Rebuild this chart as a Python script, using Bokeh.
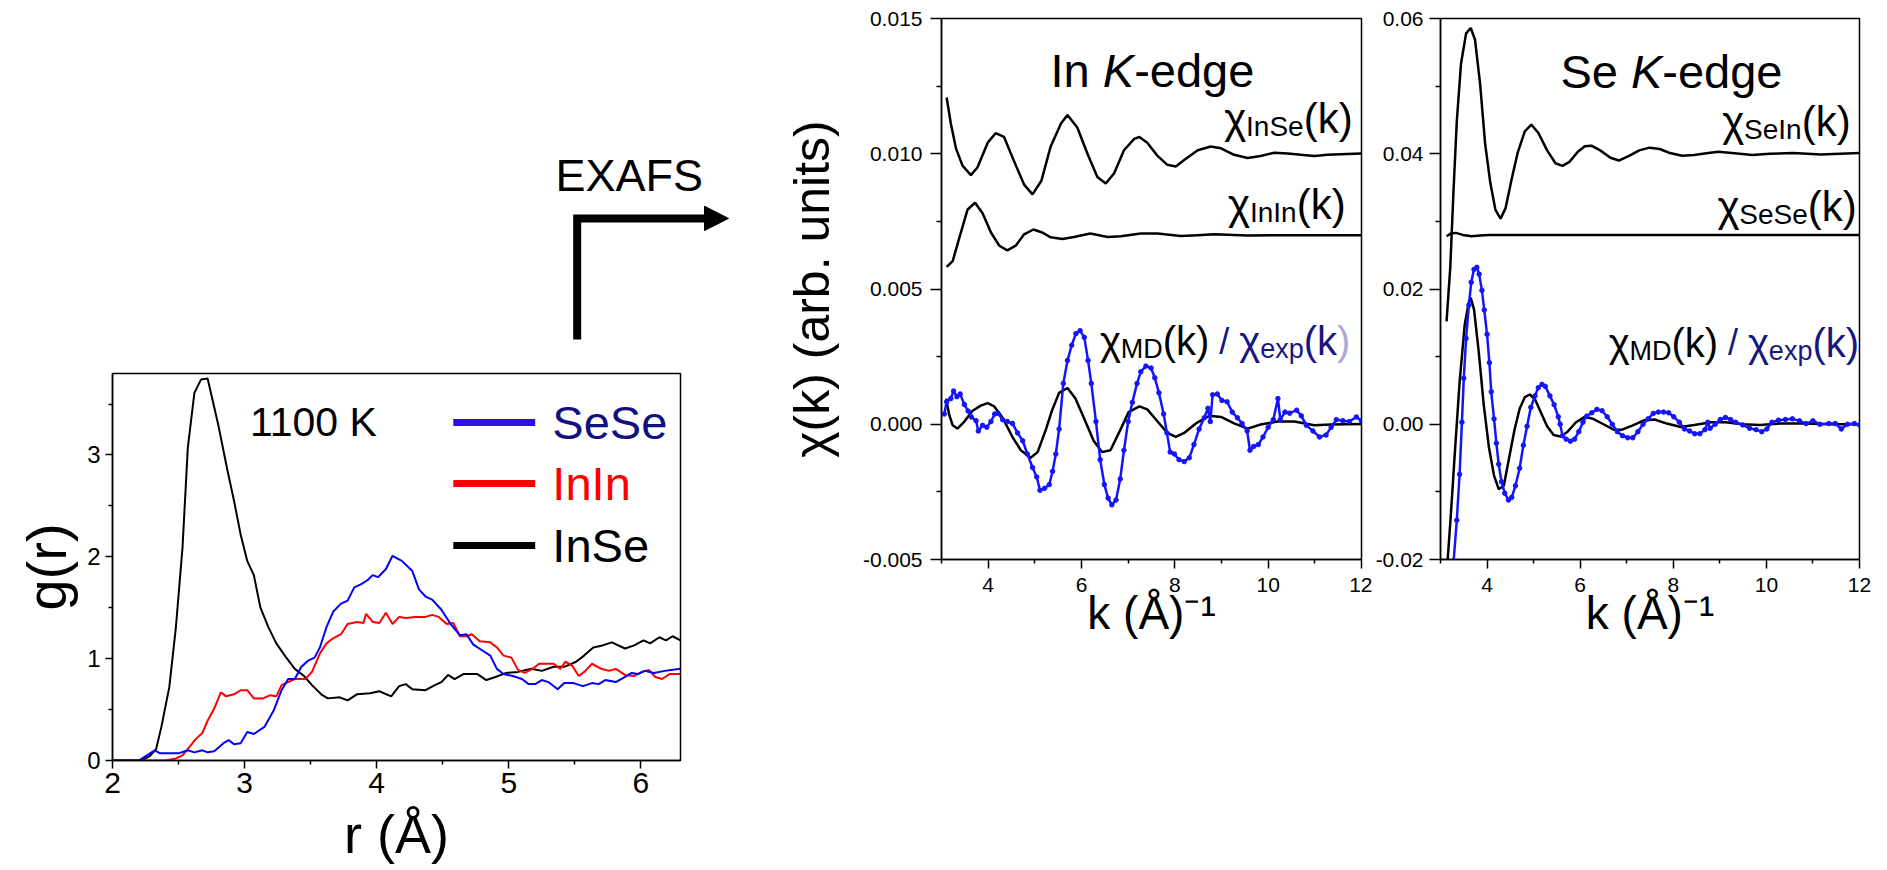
import numpy as np
from bokeh.plotting import figure
from bokeh.layouts import row, column
from bokeh.models import Range1d, FixedTicker, NumeralTickFormatter, Label
from bokeh.core.properties import value
from bokeh.embed import file_html
from bokeh.resources import INLINE

FONT = "Liberation Sans"
BLUE = "#1414ff"
NAVY = "#17177f"

# ---------------- g(r) data (1100 K) ----------------
r_inse = [2.0, 2.1, 2.2, 2.23, 2.28, 2.33, 2.37, 2.43, 2.48, 2.53, 2.57, 2.62, 2.67, 2.72, 2.80, 2.87, 2.92, 2.97, 3.02, 3.07,
          3.12, 3.18, 3.24, 3.31, 3.38, 3.45, 3.51, 3.58, 3.63, 3.72, 3.78, 3.85, 3.95, 4.02, 4.11, 4.17, 4.22, 4.27, 4.37, 4.44,
          4.49, 4.54, 4.59, 4.66, 4.76, 4.83, 4.90, 4.98, 5.07, 5.17, 5.25, 5.34, 5.42, 5.51, 5.57, 5.64, 5.71, 5.78, 5.88, 5.95,
          6.02, 6.07, 6.14, 6.19, 6.24, 6.30]
g_inse = [0, 0, 0, 0.01, 0.04, 0.11, 0.33, 0.72, 1.31, 2.09, 3.07, 3.61, 3.74, 3.75, 3.30, 2.85, 2.55, 2.22, 1.96, 1.82,
          1.50, 1.31, 1.15, 1.02, 0.90, 0.83, 0.74, 0.65, 0.61, 0.62, 0.59, 0.65, 0.66, 0.68, 0.63, 0.73, 0.75, 0.70, 0.69, 0.74,
          0.77, 0.84, 0.80, 0.85, 0.85, 0.79, 0.82, 0.86, 0.87, 0.90, 0.88, 0.92, 0.92, 0.97, 1.03, 1.11, 1.13, 1.16, 1.10, 1.13,
          1.18, 1.15, 1.21, 1.18, 1.22, 1.18]
r_sese = [2.0, 2.2, 2.26, 2.32, 2.36, 2.50, 2.57, 2.62, 2.68, 2.72, 2.77, 2.84, 2.88, 2.92, 2.97, 3.02, 3.07, 3.15, 3.22, 3.28,
          3.33, 3.38, 3.43, 3.48, 3.53, 3.57, 3.62, 3.67, 3.73, 3.78, 3.83, 3.88, 3.93, 3.97, 4.01, 4.07, 4.12, 4.19, 4.27, 4.32,
          4.37, 4.42, 4.49, 4.56, 4.63, 4.68, 4.73, 4.80, 4.86, 4.91, 4.96, 5.03, 5.10, 5.15, 5.20, 5.25, 5.30, 5.37, 5.42, 5.49,
          5.56, 5.63, 5.68, 5.73, 5.81, 5.88, 5.93, 5.98, 6.03, 6.10, 6.18, 6.30]
g_sese = [0, 0, 0.05, 0.10, 0.07, 0.07, 0.10, 0.08, 0.10, 0.08, 0.09, 0.17, 0.20, 0.16, 0.17, 0.28, 0.26, 0.33, 0.49, 0.69,
          0.80, 0.80, 0.92, 0.98, 1.01, 1.11, 1.31, 1.46, 1.54, 1.57, 1.70, 1.73, 1.77, 1.82, 1.80, 1.88, 2.01, 1.96, 1.86, 1.68,
          1.61, 1.58, 1.48, 1.34, 1.23, 1.24, 1.14, 1.08, 1.03, 0.90, 0.85, 0.83, 0.80, 0.75, 0.75, 0.79, 0.77, 0.70, 0.76, 0.76,
          0.73, 0.76, 0.75, 0.79, 0.77, 0.82, 0.86, 0.85, 0.88, 0.86, 0.88, 0.90]
r_inin = [2.0, 2.2, 2.40, 2.48, 2.53, 2.58, 2.63, 2.68, 2.72, 2.77, 2.82, 2.86, 2.92, 2.97, 3.02, 3.07, 3.14, 3.19, 3.24, 3.28,
          3.33, 3.38, 3.46, 3.51, 3.57, 3.62, 3.67, 3.73, 3.78, 3.85, 3.90, 3.92, 3.97, 4.02, 4.07, 4.12, 4.17, 4.22, 4.29, 4.37,
          4.42, 4.47, 4.53, 4.58, 4.63, 4.68, 4.72, 4.78, 4.86, 4.91, 4.96, 5.02, 5.07, 5.12, 5.18, 5.23, 5.34, 5.39, 5.43, 5.48,
          5.53, 5.58, 5.63, 5.70, 5.76, 5.81, 5.88, 5.95, 6.01, 6.06, 6.11, 6.16, 6.22, 6.30]
g_inin = [0, 0, 0, 0.02, 0.05, 0.13, 0.21, 0.27, 0.39, 0.51, 0.67, 0.63, 0.65, 0.69, 0.69, 0.61, 0.61, 0.64, 0.63, 0.74,
          0.77, 0.80, 0.80, 0.87, 1.05, 1.15, 1.20, 1.24, 1.34, 1.36, 1.35, 1.44, 1.36, 1.35, 1.45, 1.34, 1.41, 1.40, 1.41, 1.41,
          1.43, 1.41, 1.34, 1.35, 1.22, 1.22, 1.24, 1.17, 1.16, 1.11, 1.03, 1.01, 0.89, 0.86, 0.90, 0.95, 0.95, 0.90, 0.97, 0.93,
          0.83, 0.88, 0.95, 0.90, 0.88, 0.90, 0.84, 0.83, 0.87, 0.89, 0.82, 0.80, 0.85, 0.85]

# ---------------- In K-edge chi(k), values in units of 1e-3 ----------------
k_inse = [3.11, 3.20, 3.31, 3.45, 3.63, 3.77, 3.99, 4.16, 4.34, 4.56, 4.77, 4.95, 5.14, 5.34, 5.56, 5.70, 5.91, 6.13, 6.34, 6.52,
          6.70, 6.91, 7.13, 7.24, 7.41, 7.63, 7.84, 8.02, 8.20, 8.49, 8.77, 8.99, 9.27, 9.56, 9.84, 10.13, 10.42, 10.70, 10.99, 11.27,
          11.70, 12.0]
chi_inse_m = [12.08, 11.12, 10.20, 9.56, 9.21, 9.49, 10.41, 10.76, 10.62, 9.70, 8.86, 8.50, 9.00, 10.27, 11.12, 11.43, 10.97, 9.99, 9.14, 8.90,
              9.28, 10.13, 10.55, 10.62, 10.41, 9.92, 9.59, 9.53, 9.77, 10.13, 10.27, 10.20, 9.96, 9.84, 9.92, 10.04, 10.01, 9.96, 9.92, 9.96,
              9.99, 10.01]
k_inin = [3.11, 3.24, 3.38, 3.56, 3.72, 3.88, 4.06, 4.24, 4.41, 4.59, 4.77, 4.97, 5.16, 5.34, 5.59, 5.84, 6.19, 6.56, 6.84, 7.27,
          7.63, 8.13, 8.49, 8.84, 9.56, 10.27, 12.0]
chi_inin_m = [5.82, 6.03, 6.88, 7.94, 8.19, 7.80, 7.09, 6.60, 6.43, 6.60, 7.02, 7.20, 7.09, 6.91, 6.85, 6.92, 7.05, 6.92, 6.95, 7.05,
              7.05, 6.96, 6.99, 7.02, 6.98, 6.99, 6.99]
k_md_in = [3.10, 3.16, 3.24, 3.34, 3.49, 3.66, 3.84, 3.99, 4.13, 4.31, 4.52, 4.70, 4.91, 5.06, 5.24, 5.37, 5.52, 5.70, 5.87, 6.05,
           6.26, 6.44, 6.62, 6.84, 7.01, 7.24, 7.41, 7.63, 7.84, 8.02, 8.20, 8.45, 8.74, 8.99, 9.27, 9.56, 9.84, 10.20, 10.56, 10.99,
           11.34, 12.0]
chi_md_in_m = [0.95, 0.38, -0.04, -0.16, 0.10, 0.49, 0.69, 0.78, 0.66, 0.24, -0.47, -0.96, -1.24, -1.03, -0.18, 0.52, 1.16, 1.34, 0.95, 0.24,
               -0.61, -1.03, -0.96, -0.18, 0.45, 0.66, 0.55, 0.10, -0.32, -0.47, -0.32, 0.03, 0.31, 0.27, 0.03, -0.16, -0.01, 0.10, 0.10, -0.04,
               -0.01, 0.01]
k_exp_in = [3.06, 3.11, 3.20, 3.26, 3.33, 3.40, 3.49, 3.57, 3.64, 3.74, 3.79, 3.88, 3.97, 4.06, 4.14, 4.21, 4.31, 4.41, 4.52, 4.63,
            4.74, 4.84, 4.95, 5.04, 5.11, 5.21, 5.31, 5.38, 5.45, 5.52, 5.61, 5.70, 5.79, 5.88, 5.97, 6.06, 6.14, 6.21, 6.31, 6.40,
            6.49, 6.57, 6.65, 6.74, 6.83, 6.91, 7.00, 7.09, 7.19, 7.27, 7.38, 7.49, 7.57, 7.66, 7.76, 7.83, 7.90, 7.99, 8.09, 8.20,
            8.31, 8.41, 8.52, 8.63, 8.71, 8.76, 8.81, 8.91, 9.01, 9.12, 9.23, 9.34, 9.44, 9.55, 9.61, 9.69, 9.79, 9.89, 10.00, 10.11,
            10.21, 10.26, 10.36, 10.46, 10.61, 10.71, 10.82, 10.96, 11.10, 11.24, 11.35, 11.46, 11.60, 11.74, 11.89, 12.0]
chi_exp_in_m = [0.38, 0.83, 0.95, 1.23, 1.02, 1.12, 0.73, 0.49, 0.27, 0.13, -0.25, -0.04, -0.11, 0.10, 0.38, 0.41, 0.17, 0.10, 0.03, -0.32,
                -0.61, -1.10, -1.60, -1.95, -2.44, -2.37, -2.23, -1.74, -1.10, -0.18, 1.51, 2.36, 2.92, 3.35, 3.46, 3.21, 2.36, 1.51, 0.10, -1.31,
                -2.23, -2.73, -2.98, -2.80, -2.02, -0.96, 0.10, 0.81, 1.51, 1.94, 2.15, 2.08, 1.72, 1.16, 0.38, -0.32, -1.03, -1.10, -1.31, -1.38,
                -1.24, -0.75, -0.18, 0.24, 0.59, 0.10, 1.09, 1.12, 0.88, 0.83, 0.45, 0.24, 0.03, -0.25, -0.96, -0.82, -0.75, -0.47, -0.11, 0.17,
                0.95, 0.17, 0.45, 0.41, 0.52, 0.31, -0.04, -0.25, -0.47, -0.40, -0.11, 0.17, 0.13, 0.10, 0.27, 0.13]

# ---------------- Se K-edge chi(k), values in units of 1e-3 ----------------
k_sein = [3.13, 3.21, 3.28, 3.35, 3.44, 3.55, 3.65, 3.74, 3.85, 3.96, 4.07, 4.18, 4.29, 4.40, 4.53, 4.66, 4.81, 4.95, 5.10, 5.29,
          5.47, 5.62, 5.77, 5.95, 6.10, 6.24, 6.43, 6.65, 6.83, 7.05, 7.27, 7.49, 7.71, 7.93, 8.19, 8.45, 8.75, 8.97, 9.26, 9.70,
          10.07, 10.58, 11.17, 12.0]
chi_sein_m = [15.2, 23.2, 34.6, 44.8, 53.3, 57.8, 58.6, 56.9, 50.4, 41.4, 35.7, 31.7, 30.4, 32.0, 36.3, 40.2, 43.3, 44.3, 43.1, 40.5,
              38.6, 38.2, 38.8, 40.3, 41.1, 41.2, 40.5, 39.4, 39.0, 39.7, 40.5, 40.9, 40.7, 40.1, 39.7, 39.8, 40.1, 40.3, 40.1, 39.8,
              40.0, 40.1, 39.9, 40.1]
k_sese = [3.13, 3.22, 3.33, 3.48, 3.67, 3.85, 4.04, 4.33, 5.0, 6.0, 8.0, 10.0, 12.0]
chi_sese_m = [27.8, 28.2, 28.3, 28.0, 27.8, 27.9, 28.0, 28.0, 28.0, 28.0, 28.0, 28.0, 28.0]
k_md_se = [3.12, 3.15, 3.22, 3.31, 3.41, 3.52, 3.61, 3.65, 3.72, 3.82, 3.93, 4.04, 4.15, 4.25, 4.36, 4.47, 4.59, 4.70, 4.81, 4.92,
           5.03, 5.14, 5.29, 5.43, 5.58, 5.73, 5.91, 6.10, 6.28, 6.50, 6.72, 6.90, 7.12, 7.38, 7.60, 7.86, 8.16, 8.45, 8.82, 9.12,
           9.49, 9.86, 10.30, 10.81, 11.34, 12.0]
chi_md_se_m = [-24.0, -20.4, -13.6, -4.0, 6.2, 14.7, 18.1, 18.7, 17.0, 10.8, 2.8, -3.4, -7.6, -9.6, -9.1, -5.1, -0.8, 2.3, 4.0, 4.4,
               3.7, 2.0, -0.3, -1.6, -1.8, -1.1, 0.3, 1.1, 0.8, 0.0, -0.8, -0.8, -0.2, 0.6, 0.7, 0.1, -0.4, -0.1, 0.3, 0.3,
               0.0, -0.1, 0.1, 0.1, 0.0, 0.0]
k_exp_se = [3.25, 3.28, 3.35, 3.41, 3.46, 3.50, 3.55, 3.61, 3.66, 3.72, 3.78, 3.83, 3.89, 3.94, 4.00, 4.05, 4.09, 4.15, 4.20, 4.25,
            4.31, 4.38, 4.46, 4.53, 4.61, 4.70, 4.78, 4.86, 4.94, 5.03, 5.10, 5.18, 5.25, 5.35, 5.44, 5.53, 5.57, 5.62, 5.70, 5.79,
            5.88, 5.97, 6.06, 6.14, 6.25, 6.36, 6.47, 6.58, 6.69, 6.80, 6.91, 7.02, 7.13, 7.24, 7.35, 7.46, 7.57, 7.68, 7.79, 7.90,
            8.01, 8.13, 8.24, 8.35, 8.46, 8.57, 8.68, 8.74, 8.79, 8.90, 9.01, 9.12, 9.23, 9.34, 9.49, 9.64, 9.78, 9.90, 10.01, 10.12,
            10.26, 10.41, 10.56, 10.71, 10.85, 11.00, 11.15, 11.34, 11.48, 11.61, 11.74, 11.89, 12.0]
chi_exp_se_m = [-24.0, -20.4, -14.2, -7.4, 0.3, 6.8, 12.7, 17.6, 21.0, 22.9, 23.2, 22.2, 19.8, 16.9, 13.3, 9.1, 4.8, 0.8, -2.8, -5.9,
                -8.5, -10.2, -11.2, -10.8, -9.1, -6.5, -3.1, -0.3, 2.5, 4.2, 5.4, 5.9, 5.6, 4.2, 2.9, 1.1, 0.0, -1.7, -2.2, -2.5,
                -2.2, -1.1, 0.3, 1.2, 1.7, 2.2, 2.0, 1.1, 0.0, -1.1, -1.7, -2.0, -2.0, -1.1, 0.0, 0.8, 1.6, 1.8, 1.8, 1.7,
                1.1, 0.3, -0.7, -1.0, -1.4, -1.4, -0.8, 0.3, -0.6, 0.0, 0.7, 1.0, 0.7, 0.3, -0.1, -0.6, -0.8, -1.1, -0.7, 0.3,
                0.6, 0.7, 0.8, 0.5, 0.1, 0.5, 0.0, 0.1, 0.1, -0.7, 0.0, 0.1, -0.1]

# ---------------- ticks ----------------
gr_xticks = [2, 3, 4, 5, 6]
gr_xminor = [2.5, 3.5, 4.5, 5.5]
gr_yticks = [0, 1, 2, 3]
gr_yminor = [0.5, 1.5, 2.5, 3.5]
k_ticks = [4, 6, 8, 10, 12]
k_minor = [3, 5, 7, 9, 11]
in_yticks = [-0.005, 0.0, 0.005, 0.010, 0.015]
in_yminor = [-0.0025, 0.0025, 0.0075, 0.0125]
se_yticks = [-0.02, 0.0, 0.02, 0.04, 0.06]
se_yminor = [-0.01, 0.01, 0.03, 0.05]

milli = 1e-3
H = 868          # total layout height (px)
TOP_H = 350      # height of the strip holding the EXAFS arrow

# Arial / Liberation Sans advance widths (em)
ADV = {' ': 0.278, '(': 0.333, ')': 0.333, '/': 0.278, 'k': 0.5, 'I': 0.278, 'n': 0.556, 'S': 0.667, 'e': 0.556,
       'M': 0.833, 'D': 0.722, 'x': 0.5, 'p': 0.556, 'd': 0.556, 'g': 0.556, 'K': 0.667, '-': 0.333, 'χ': 0.52}


def tw(text, size):
    return sum(ADV.get(c, 0.556) for c in text) * size


def add_chain(p, x, y, parts, ppy, align="right"):
    total = sum(tw(t, s) if t else s for t, s, *_ in parts)
    cur = -total if align == "right" else -total / 2.0
    for t, s, color, drop, style in parts:
        if t:
            p.add_layout(Label(x=x, y=y - drop / ppy, x_offset=cur, text=t, text_font=FONT,
                               text_font_size=f"{s}px", text_color=color, text_font_style=style,
                               text_align="left", text_baseline="alphabetic"))
            cur += tw(t, s)
        else:
            cur += s


def style(p, xt_size, yt_size, xt_out, yt_out, xm_out, ym_out, x_std, y_std):
    p.xgrid.visible = False
    p.ygrid.visible = False
    p.outline_line_color = "black"
    p.outline_line_width = 1.5
    p.outline_line_alpha = 1.0
    for ax, fsz, tout, mout, std in ((p.xaxis[0], xt_size, xt_out, xm_out, x_std),
                                     (p.yaxis[0], yt_size, yt_out, ym_out, y_std)):
        ax.major_tick_in = 0
        ax.major_tick_out = tout
        ax.minor_tick_in = 0
        ax.minor_tick_out = mout
        ax.axis_line_width = 1.5
        ax.axis_line_color = "black"
        ax.major_tick_line_width = 1.5
        ax.minor_tick_line_width = 1.5
        ax.major_tick_line_color = "black"
        ax.minor_tick_line_color = "black"
        ax.major_label_text_font = FONT
        ax.major_label_text_font_size = fsz
        ax.major_label_text_color = "black"
        ax.major_label_standoff = std
        ax.axis_label_text_font = FONT
        ax.axis_label_text_font_style = "normal"
        ax.axis_label_text_color = "black"


# ================= EXAFS arrow strip (pixel-space decoration) =================
arrow_fig = figure(width=780, height=TOP_H, x_range=Range1d(0, 780), y_range=Range1d(TOP_H, 0),
                   toolbar_location=None, output_backend="svg", min_border=0,
                   x_axis_location=None, y_axis_location=None)
arrow_fig.grid.visible = False
arrow_fig.outline_line_color = None
arrow_fig.line(x=[576.7, 576.7, 705], y=[339, 217.9, 217.9], line_width=8, line_color="black", line_join="miter")
arrow_fig.patch(x=[704, 728, 704], y=[205.7, 217.9, 230.1], fill_color="black", line_color="black")
arrow_fig.text(x=[555], y=[175], text=["EXAFS"], text_font=value(FONT), text_font_size="45px",
               text_baseline="alphabetic", text_align="left", text_color="black")

# ================= g(r) panel =================
gr = figure(width=780, height=H - TOP_H, x_range=Range1d(2, 6.3), y_range=Range1d(0, 3.8),
            toolbar_location=None, output_backend="svg",
            min_border_left=112, min_border_right=100, min_border_top=373 - TOP_H, min_border_bottom=H - 760)
style(gr, "30px", "24px", 8, 7, 4, 4, 4, 5)
gr.xaxis.ticker = FixedTicker(ticks=gr_xticks, minor_ticks=gr_xminor)
gr.yaxis.ticker = FixedTicker(ticks=gr_yticks, minor_ticks=gr_yminor)
gr.xaxis.formatter = NumeralTickFormatter(format="0")
gr.yaxis.formatter = NumeralTickFormatter(format="0")
gr.xaxis.axis_label = "r (Å)"
gr.yaxis.axis_label = "g(r)"
gr.xaxis.axis_label_text_font_size = "54px"
gr.yaxis.axis_label_text_font_size = "56px"
gr.xaxis.axis_label_standoff = 8
gr.yaxis.axis_label_standoff = 6

gr.line(r_inse, g_inse, line_color="black", line_width=2)
gr.line(r_inin, g_inin, line_color="#ff0000", line_width=2)
gr.line(r_sese, g_sese, line_color="#0000ff", line_width=2)

leg_names = ["SeSe", "InIn", "InSe"]
leg_line_colors = ["#2a0fe6", "#ff0000", "black"]
leg_text_colors = ["#10107f", "#ff0000", "black"]
leg_y = [3.32, 2.72, 2.11]
gr.segment(x0=[4.58] * 3, x1=[5.20] * 3, y0=leg_y, y1=leg_y, line_color=leg_line_colors, line_width=7)
gr.text(x=[5.33] * 3, y=leg_y, text=leg_names, text_color=leg_text_colors, text_font=value(FONT),
        text_font_size="47px", text_baseline="middle", text_align="left")
gr.text(x=[3.04], y=[3.32], text=["1100 K"], text_color="black", text_font=value(FONT),
        text_font_size="41px", text_baseline="middle", text_align="left")

# ================= In K-edge panel =================
mid = figure(width=592, height=H, x_range=Range1d(3, 12), y_range=Range1d(-0.005, 0.015),
             toolbar_location=None, output_backend="svg",
             min_border_left=161, min_border_right=11, min_border_top=18, min_border_bottom=H - 559)
style(mid, "21px", "21px", 9, 11, 4, 5, 9, 8)
mid.xaxis.ticker = FixedTicker(ticks=k_ticks, minor_ticks=k_minor)
mid.yaxis.ticker = FixedTicker(ticks=in_yticks, minor_ticks=in_yminor)
mid.xaxis.formatter = NumeralTickFormatter(format="0")
mid.yaxis.formatter = NumeralTickFormatter(format="0.000")
mid.xaxis.axis_label = "k (Å)⁻¹"
mid.yaxis.axis_label = "χ(k) (arb. units)"
mid.xaxis.axis_label_text_font_size = "46px"
mid.yaxis.axis_label_text_font_size = "50px"
mid.xaxis.axis_label_standoff = -8
mid.yaxis.axis_label_standoff = 20

mid.line(k_inse, np.array(chi_inse_m) * milli, line_color="black", line_width=2.5)
mid.line(k_inin, np.array(chi_inin_m) * milli, line_color="black", line_width=2.5)
mid.line(k_md_in, np.array(chi_md_in_m) * milli, line_color="black", line_width=2.5)
mid.line(k_exp_in, np.array(chi_exp_in_m) * milli, line_color=BLUE, line_width=2.5)
mid.scatter(k_exp_in, np.array(chi_exp_in_m) * milli, marker="circle", size=4.5, fill_color=BLUE, line_color=BLUE)

PPY_MID = 540.7 / 0.02
add_chain(mid, 7.52, 0.01309, [("In ", 47, "black", 0, "normal"), ("K", 47, "black", 0, "italic"),
                               ("-edge", 47, "black", 0, "normal")], PPY_MID, align="center")
add_chain(mid, 11.81, 0.01131, [("χ", 42, "black", 0, "normal"), ("InSe", 28, "black", 8, "normal"),
                                ("(k)", 42, "black", 0, "normal")], PPY_MID)
add_chain(mid, 11.66, 0.00813, [("χ", 42, "black", 0, "normal"), ("InIn", 28, "black", 8, "normal"),
                                ("(k)", 42, "black", 0, "normal")], PPY_MID)
add_chain(mid, 11.76, 0.00306, [("χ", 40, "black", 0, "normal"), ("MD", 27, "black", 8, "normal"),
                                ("(k)", 40, "black", 0, "normal"), (None, 10, None, 0, None),
                                ("/", 36, NAVY, 0, "normal"), (None, 10, None, 0, None),
                                ("χ", 40, NAVY, 0, "normal"), ("exp", 27, NAVY, 8, "normal"),
                                ("(k", 40, NAVY, 0, "normal"), (")", 40, "#a9a9d6", 0, "normal")], PPY_MID)

# ================= Se K-edge panel =================
rgt = figure(width=515, height=H, x_range=Range1d(3, 12), y_range=Range1d(-0.02, 0.06),
             toolbar_location=None, output_backend="svg",
             min_border_left=64, min_border_right=28, min_border_top=18, min_border_bottom=H - 559)
style(rgt, "21px", "21px", 9, 11, 4, 5, 9, 6)
rgt.xaxis.ticker = FixedTicker(ticks=k_ticks, minor_ticks=k_minor)
rgt.yaxis.ticker = FixedTicker(ticks=se_yticks, minor_ticks=se_yminor)
rgt.xaxis.formatter = NumeralTickFormatter(format="0")
rgt.yaxis.formatter = NumeralTickFormatter(format="0.00")
rgt.xaxis.axis_label = "k (Å)⁻¹"
rgt.xaxis.axis_label_text_font_size = "46px"
rgt.xaxis.axis_label_standoff = -8

rgt.line(k_sein, np.array(chi_sein_m) * milli, line_color="black", line_width=2.5)
rgt.line(k_sese, np.array(chi_sese_m) * milli, line_color="black", line_width=2.5)
rgt.line(k_md_se, np.array(chi_md_se_m) * milli, line_color="black", line_width=2.5)
rgt.line(k_exp_se, np.array(chi_exp_se_m) * milli, line_color=BLUE, line_width=2.5)
rgt.scatter(k_exp_se, np.array(chi_exp_se_m) * milli, marker="circle", size=4.5, fill_color=BLUE, line_color=BLUE)

PPY_RGT = 541.7 / 0.08
add_chain(rgt, 7.96, 0.05222, [("Se ", 47, "black", 0, "normal"), ("K", 47, "black", 0, "italic"),
                               ("-edge", 47, "black", 0, "normal")], PPY_RGT, align="center")
add_chain(rgt, 11.81, 0.04483, [("χ", 42, "black", 0, "normal"), ("SeIn", 28, "black", 8, "normal"),
                                ("(k)", 42, "black", 0, "normal")], PPY_RGT)
add_chain(rgt, 11.94, 0.03213, [("χ", 42, "black", 0, "normal"), ("SeSe", 28, "black", 8, "normal"),
                                ("(k)", 42, "black", 0, "normal")], PPY_RGT)
add_chain(rgt, 11.99, 0.01205, [("χ", 40, "black", 0, "normal"), ("MD", 27, "black", 8, "normal"),
                                ("(k)", 40, "black", 0, "normal"), (None, 10, None, 0, None),
                                ("/", 36, NAVY, 0, "normal"), (None, 10, None, 0, None),
                                ("χ", 40, NAVY, 0, "normal"), ("exp", 27, NAVY, 8, "normal"),
                                ("(k)", 40, NAVY, 0, "normal")], PPY_RGT)

# nested columns keep each plot's frame where its own borders put it
layout = row(column(column(arrow_fig), column(gr)), column(mid), column(rgt))
open("out.html", "w").write(file_html(layout, INLINE, title="g(r) and EXAFS"))
